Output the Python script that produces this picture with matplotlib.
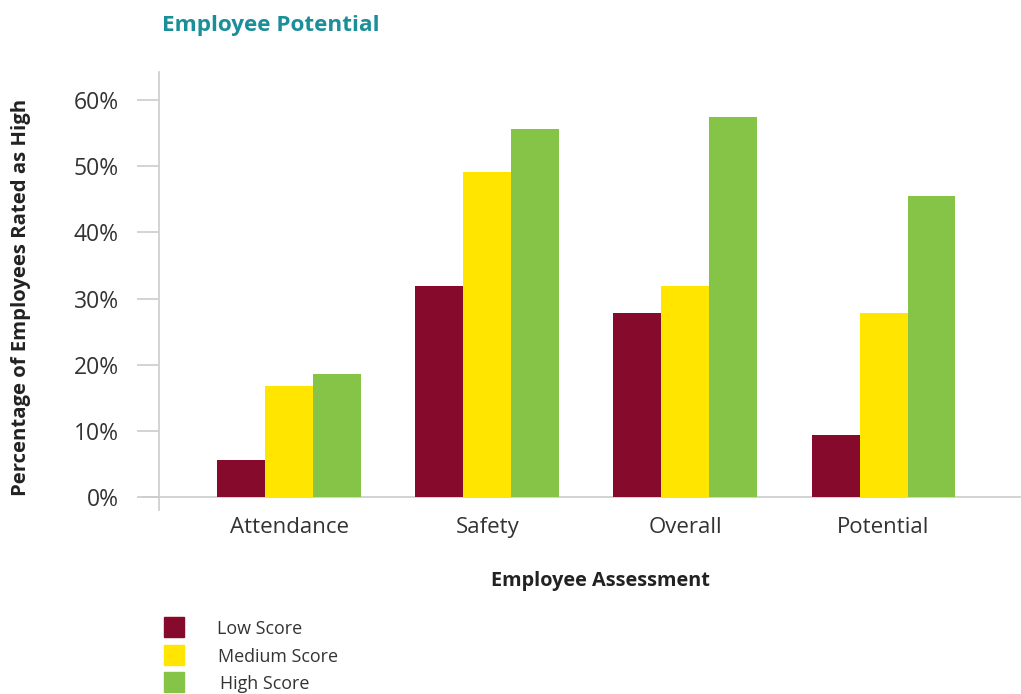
import matplotlib.pyplot as plt
import numpy as np
from matplotlib.patches import Rectangle

plt.rcParams['font.family'] = ['Open Sans', 'DejaVu Sans']

categories = ["Attendance", "Safety", "Overall", "Potential"]
series_names = ["Low Score", "Medium Score", "High Score"]
low_score = [5.6, 31.9, 27.8, 9.4]
medium_score = [16.8, 49.1, 31.9, 27.8]
high_score = [18.6, 55.7, 57.5, 45.5]
colors = ["#850A2B", "#FFE500", "#85C446"]

fig = plt.figure(figsize=(10.21, 6.94), dpi=100)
ax = fig.add_axes([0.1557, 0.265, 0.843, 0.631])

x = np.arange(len(categories))
w = 0.242
for i, vals in enumerate([low_score, medium_score, high_score]):
    ax.bar(x + (i - 1) * w, vals, w, color=colors[i], linewidth=0, zorder=2)

ax.set_xlim(-0.657, 3.687)
ax.set_ylim(-1.96, 64.23)

# baseline at 0% running across the plot (and into tick area)
ax.axhline(0, color="#cccccc", lw=1.2, zorder=1, clip_on=False)
ax.plot([-0.657 - 0.081, -0.657], [0, 0], color="#cccccc", lw=1.2, clip_on=False)

for s in ["top", "right", "bottom"]:
    ax.spines[s].set_visible(False)
ax.spines["left"].set_color("#cccccc")
ax.spines["left"].set_linewidth(1.2)

ax.set_yticks([0, 10, 20, 30, 40, 50, 60])
ax.set_yticklabels(["0%", "10%", "20%", "30%", "40%", "50%", "60%"])
ax.tick_params(axis="y", length=16, color="#cccccc", width=1.2, pad=13,
               labelsize=16.5, labelcolor="#333333")
ax.set_xticks(x)
ax.set_xticklabels(categories)
ax.tick_params(axis="x", length=0, pad=5, labelsize=16, labelcolor="#333333")

fig.text(0.021, 0.572, "Percentage of Employees Rated as High", rotation=90,
         ha="center", va="center", fontsize=14.6, fontweight="bold", color="#222222")
fig.text(0.588, 0.163, "Employee Assessment", ha="center", va="center",
         fontsize=14.3, fontweight="bold", color="#222222")
fig.text(0.159, 0.963, "Employee Potential", ha="left", va="center",
         fontsize=16.2, fontweight="bold", color="#1A8F9A")

# legend
leg_y = [627, 655, 682]
leg_tx = [217, 218, 220]
for i, name in enumerate(series_names):
    yc = leg_y[i]
    fig.patches.append(Rectangle((164 / 1021, (694 - yc - 10) / 694), 20 / 1021, 20 / 694,
                                 transform=fig.transFigure, color=colors[i], figure=fig))
    fig.text(leg_tx[i] / 1021, (694 - yc - 2) / 694, name, ha="left", va="center",
             fontsize=12.9, color="#333333")

fig.savefig("out.png", dpi=100)
